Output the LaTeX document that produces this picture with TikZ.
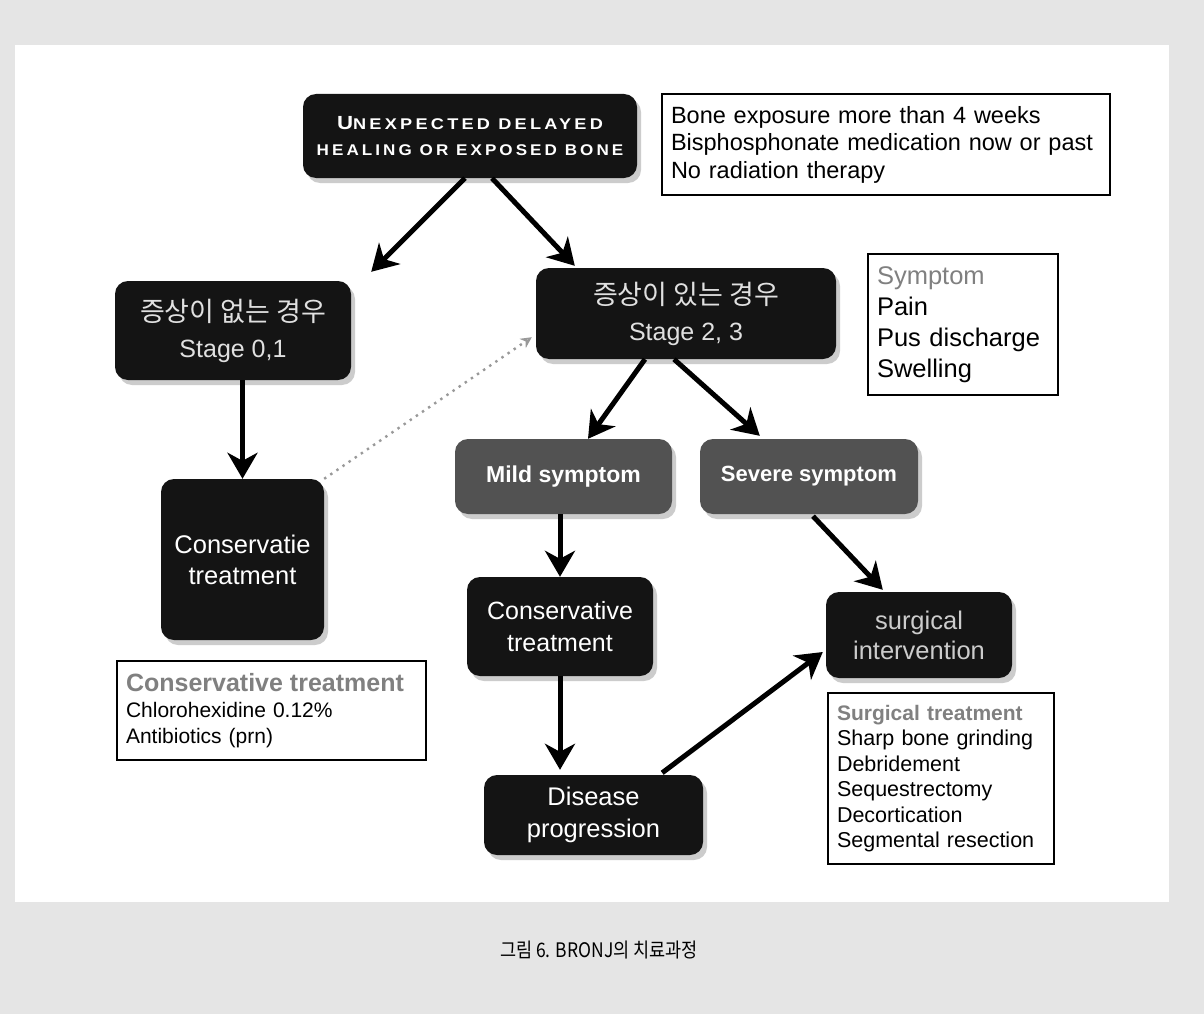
\documentclass[tikz,border=0pt]{standalone}
\usepackage{graphicx}
\usepackage{fontspec}
\setmainfont{Liberation Sans}
\newfontfamily\kr{Noto Sans CJK KR}
\newfontfamily\capsf[LetterSpace=18]{Liberation Sans}
\usetikzlibrary{arrows.meta,shadows,calc}
\tikzset{
  blk/.style={fill=black!92, rounded corners=13pt, text=white, align=center, inner sep=0pt,
    drop shadow={opacity=0.4, shadow xshift=4pt, shadow yshift=-5pt}},
  grb/.style={blk, fill=black!68},
  info/.style={draw=black, line width=2.6pt, fill=white, align=left, inner xsep=9pt, inner ysep=0pt},
  arr/.style={line width=5pt, -{Stealth[length=26pt,width=30pt,inset=8pt]}},
  dotc/.style={gray!80, line width=2.4pt, dash pattern=on 2.4pt off 5pt, -{Stealth[open,length=11pt,width=11pt]}},
}
\begin{document}
\begin{tikzpicture}[x=1pt,y=-1pt]
\fill[gray!20] (0,0) rectangle (1204,1014);
\fill[white] (15,45) rectangle (1169,902);

% top
\node[blk, minimum width=334pt, minimum height=84pt, font=\capsf\bfseries\fontsize{15.5}{26}\selectfont] (top) at (470,136)
  {\scalebox{1.17}[1]{\fontsize{19}{26}\selectfont U\fontsize{15.5}{26}\selectfont NEXPECTED DELAYED}\\
   \scalebox{1.1}[1]{HEALING OR EXPOSED BONE}};

\node[info, text width=430pt, minimum height=101pt, font=\fontsize{23.5}{27.5}\selectfont] (crit) at (886,144.5)
  {Bone exposure more than 4 weeks\\Bisphosphonate medication now or past\\No radiation therapy};

% stages
\node[blk, text=white!88!black, minimum width=236pt, minimum height=99pt, font=\fontsize{25}{36}\selectfont] (lstage) at (233,330.5)
  {{\kr\fontsize{27}{36}\selectfont 증상이 없는 경우}\\Stage 0,1};
\node[blk, text=white!88!black, minimum width=300pt, minimum height=91pt, font=\fontsize{25}{36}\selectfont] (rstage) at (686,313.5)
  {{\kr\fontsize{27}{36}\selectfont 증상이 있는 경우}\\Stage 2, 3};

\node[info, text width=172pt, minimum height=141pt, font=\fontsize{25.5}{31}\selectfont] (symp) at (963,324.5)
  {\textcolor{gray}{Symptom}\\Pain\\Pus discharge\\Swelling};

% left branch
\node[blk, minimum width=163pt, minimum height=161pt, font=\fontsize{25.5}{31}\selectfont] (lcons) at (242.5,559.5)
  {Conservatie\\treatment};
\node[info, text width=291pt, minimum height=99pt, font=\fontsize{21}{26}\selectfont] (linfo) at (271.5,710.5)
  {{\bfseries\fontsize{25}{26}\selectfont\textcolor{gray}{Conservative treatment}}\\Chlorohexidine 0.12\%\\Antibiotics (prn)};

% right branch
\node[grb, minimum width=217pt, minimum height=75pt, font=\bfseries\fontsize{23}{28}\selectfont] (mild) at (563.5,476.5) {Mild symptom};
\node[grb, minimum width=218pt, minimum height=75pt, font=\bfseries\fontsize{22}{28}\selectfont] (severe) at (809,476.5) {Severe symptom};

\node[blk, minimum width=186pt, minimum height=99pt, font=\fontsize{25}{32}\selectfont] (mcons) at (560,626.5)
  {Conservative\\treatment};
\node[blk, text=white!80!black, minimum width=186pt, minimum height=86pt, font=\fontsize{25.5}{30}\selectfont] (surg) at (919,635)
  {surgical\\intervention};
\node[info, text width=208pt, minimum height=171pt, font=\fontsize{21.5}{25.5}\selectfont] (sinfo) at (941,778.5)
  {{\bfseries\fontsize{21}{25.5}\selectfont\textcolor{gray}{Surgical treatment}}\\Sharp bone grinding\\Debridement\\Sequestrectomy\\Decortication\\Segmental resection};
\node[blk, minimum width=219pt, minimum height=80pt, font=\fontsize{25.5}{32}\selectfont] (dis) at (593.5,815)
  {Disease\\progression};

% connectors
\draw[arr] ($(top.south)+(-5,0)$) -- ($(lstage.north east)+(20,-9)$);
\draw[arr] ($(top.south)+(22,0)$) -- ($(rstage.north west)+(39,-2)$);
\draw[arr] (lcons.north |- lstage.south) -- (lcons.north);
\draw[arr] ($(rstage.south)+(-41,0)$) -- ($(mild.north)+(24.5,0)$);
\draw[arr] ($(rstage.south)+(-12,0)$) -- ($(severe.north west)+(60,-3)$);
\draw[arr] (mcons.north |- mild.south) -- (mcons.north);
\draw[arr] (mcons.south) -- ($(mcons.south |- dis.north)+(0,-5)$);
\draw[arr] ($(severe.south)+(4,2)$) -- ($(surg.north west)+(57,-2)$);
\draw[arr] ($(dis.north east)+(-41,-2)$) -- ($(surg.west)+(-3,17)$);
\draw[dotc] (lcons.north east) -- ($(rstage.south west)+(-4,-22)$);

\node (cap) at (599,950) {\scalebox{0.875}[1]{\kr\fontsize{20}{24}\selectfont 그림 6. BRONJ의 치료과정}};
\end{tikzpicture}
\end{document}
